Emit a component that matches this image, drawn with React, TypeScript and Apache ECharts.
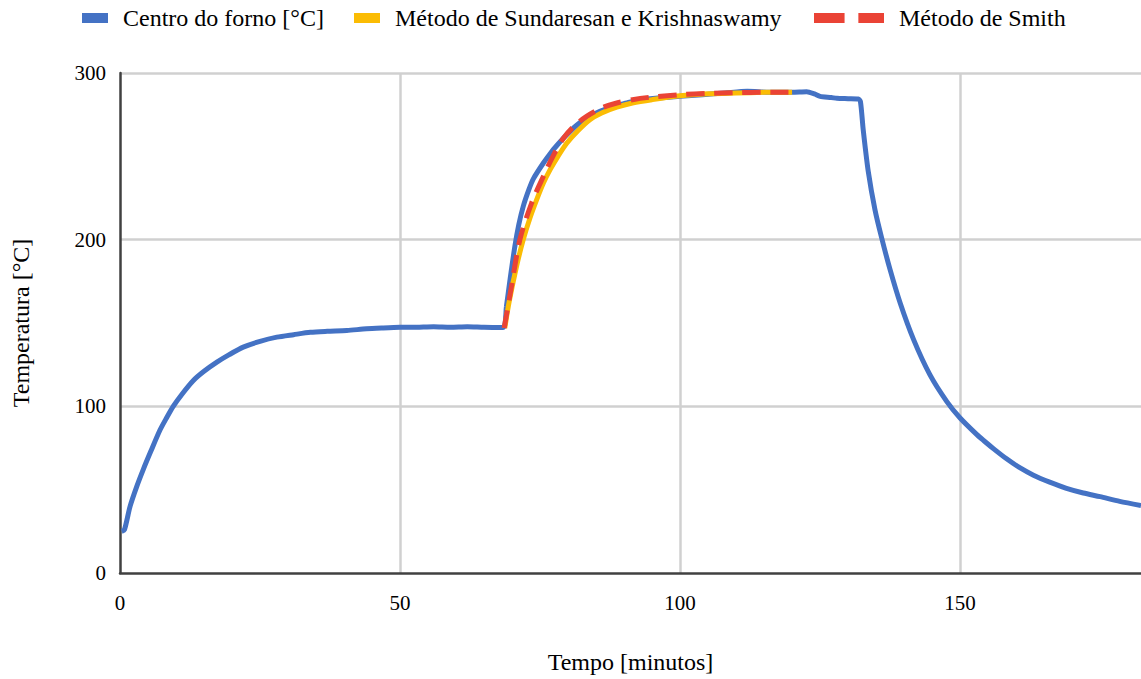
import React, { useEffect, useRef } from "react";
import * as echarts from "echarts";

// Centro do forno [°C]
const furnaceTime = [
  0.3, 0.8, 1.8, 3, 4.2, 5.5, 7.1, 8.3, 9.5, 11, 13.1, 15, 17.3, 19.5, 22, 25, 28, 31, 34, 37,
  40.5, 44, 47, 50, 53, 56, 59, 62, 65, 68.4, 69.0, 69.6, 70.5, 71.2, 72, 73, 73.8, 75.6, 77, 78, 79.5,
  81.5, 83.5, 85.7, 88, 90.5, 93, 96, 100, 104, 108, 112, 116, 120, 122.6, 124, 125, 127, 128, 130,
  131.8, 132.2, 132.7, 133.6, 134.8, 136, 137.5, 139.3, 141.7, 144.6, 147.6, 150, 153, 154.2, 156,
  158.3, 160.5, 163.1, 166, 169, 172, 175, 178.5, 182.3,
];
const furnaceTemp = [
  25, 26, 40, 52, 62.5, 73, 85.5, 93, 100, 107, 115.5, 121, 126.5, 131, 135.5, 139, 141.5, 143, 144.4, 145,
  145.5, 146.5, 147, 147.4, 147.5, 147.8, 147.5, 147.8, 147.4, 147.3, 160, 175, 196, 209, 220, 230, 236.5, 246, 252.5, 256.5, 262,
  268.5, 273.5, 277, 280, 282, 284, 285, 286, 287, 288, 289, 288.5, 288.5, 288.8, 287.5, 286, 285.3, 284.8, 284.6,
  284.4, 283, 266, 241, 218, 201, 182, 162, 140, 119, 103, 93, 83, 79.5, 74.5,
  68.5, 63.5, 58.7, 54.5, 50.8, 48, 45.8, 43, 40.5,
];

// Método de Sundaresan e Krishnaswamy
const sundaresanTime = [
  68.7, 69.5, 70.8, 72, 73.2, 74.4, 75.6, 76.8, 78.2, 79.8, 81.8, 83.9, 86, 88.7, 91.5, 95, 100, 105, 110, 115, 120,
];
const sundaresanTemp = [
  147, 163, 184, 200, 213, 224, 234, 242, 250, 258, 265.5, 272, 276, 279.5, 282, 284, 286.3, 287.5, 288, 288.4, 288.5,
];

// Método de Smith
const smithTime = [
  68.6, 69.8, 71.4, 73.5, 75.6, 77.3, 79.2, 81.2, 83.3, 86, 88.7, 91.5, 95, 100, 105, 110, 115, 120,
];
const smithTemp = [
  147, 170, 200, 222, 238, 250, 261, 268.5, 274, 279, 282, 284, 285.6, 287, 287.8, 288.2, 288.4, 288.4,
];

const seriesNames = ["Centro do forno [°C]", "Método de Sundaresan e Krishnaswamy", "Método de Smith"];
const xTicks = [0, 50, 100, 150];
const yTicks = [0, 100, 200, 300];
const xMax = 182.3;

const pairs = (xs: number[], ys: number[]) => xs.map((x, i) => [x, ys[i]]);

const FONT = "'Liberation Serif', 'Times New Roman', serif";
const BLUE = "#4472C4";
const YELLOW = "#FBBC04";
const RED = "#EA4335";

export default function App() {
  const ref = useRef<HTMLDivElement>(null);
  useEffect(() => {
    if (!ref.current) return;
    const chart = echarts.init(ref.current, null, { renderer: "svg" });
    const legendBase = {
      top: 6,
      padding: 0,
      itemHeight: 10,
      itemWidth: 26,
      textStyle: { fontFamily: FONT, fontSize: 24, color: "#000", padding: [0, 0, 0, 10] },
    };
    chart.setOption({
      animation: false,
      backgroundColor: "#fff",
      textStyle: { fontFamily: FONT },
      legend: [
        { ...legendBase, left: 82, data: [{ name: seriesNames[0], icon: "rect" }] },
        { ...legendBase, left: 354, data: [{ name: seriesNames[1], icon: "rect" }] },
        {
          ...legendBase,
          left: 814,
          itemWidth: 70,
          data: [{ name: seriesNames[2], icon: "path://M0,0h31v10h-31z M45,0h26v10h-26z" }],
        },
      ],
      grid: { left: 120, right: 0, top: 73, bottom: 104, containLabel: false },
      xAxis: {
        type: "value",
        min: xTicks[0],
        max: xMax,
        interval: xTicks[1] - xTicks[0],
        name: "Tempo [minutos]",
        nameLocation: "middle",
        nameGap: 77,
        nameTextStyle: { fontFamily: FONT, fontSize: 24, color: "#000" },
        axisLine: { show: true, lineStyle: { color: "#404040", width: 2.5 } },
        axisTick: { show: false },
        axisLabel: {
          fontFamily: FONT,
          fontSize: 21,
          color: "#000",
          margin: 19,
          showMaxLabel: false,
          formatter: (v: number) => (xTicks.includes(v) ? String(v) : ""),
        },
        splitLine: { show: true, showMaxLine: false, showMinLine: false, lineStyle: { color: "#d0d0d0", width: 2.5 } },
      },
      yAxis: {
        type: "value",
        min: yTicks[0],
        max: yTicks[yTicks.length - 1],
        interval: yTicks[1] - yTicks[0],
        name: "Temperatura [°C]",
        nameLocation: "middle",
        nameGap: 87,
        nameTextStyle: { fontFamily: FONT, fontSize: 24, color: "#000" },
        axisLine: { show: true, lineStyle: { color: "#404040", width: 2.5 } },
        axisTick: { show: false },
        axisLabel: { fontFamily: FONT, fontSize: 21, color: "#000", margin: 14 },
        splitLine: { show: true, showMinLine: false, lineStyle: { color: "#d0d0d0", width: 2.5 } },
      },
      series: [
        {
          name: seriesNames[0],
          type: "line",
          data: pairs(furnaceTime, furnaceTemp),
          showSymbol: false,
          symbol: "none",
          smooth: 0.25,
          itemStyle: { color: BLUE },
          lineStyle: { color: BLUE, width: 5 },
          z: 2,
        },
        {
          name: seriesNames[1],
          type: "line",
          data: pairs(sundaresanTime, sundaresanTemp),
          showSymbol: false,
          symbol: "none",
          smooth: 0.3,
          itemStyle: { color: YELLOW },
          lineStyle: { color: YELLOW, width: 5 },
          z: 3,
        },
        {
          name: seriesNames[2],
          type: "line",
          data: pairs(smithTime, smithTemp),
          showSymbol: false,
          symbol: "none",
          smooth: 0.3,
          itemStyle: { color: RED },
          lineStyle: { color: RED, width: 5, type: [18, 10] },
          z: 4,
        },
      ],
    });
    return () => chart.dispose();
  }, []);
  return (
    <div
      ref={ref}
      style={{ position: "fixed", left: 0, top: 0, width: 1141, height: 679, background: "#fff" }}
    />
  );
}
